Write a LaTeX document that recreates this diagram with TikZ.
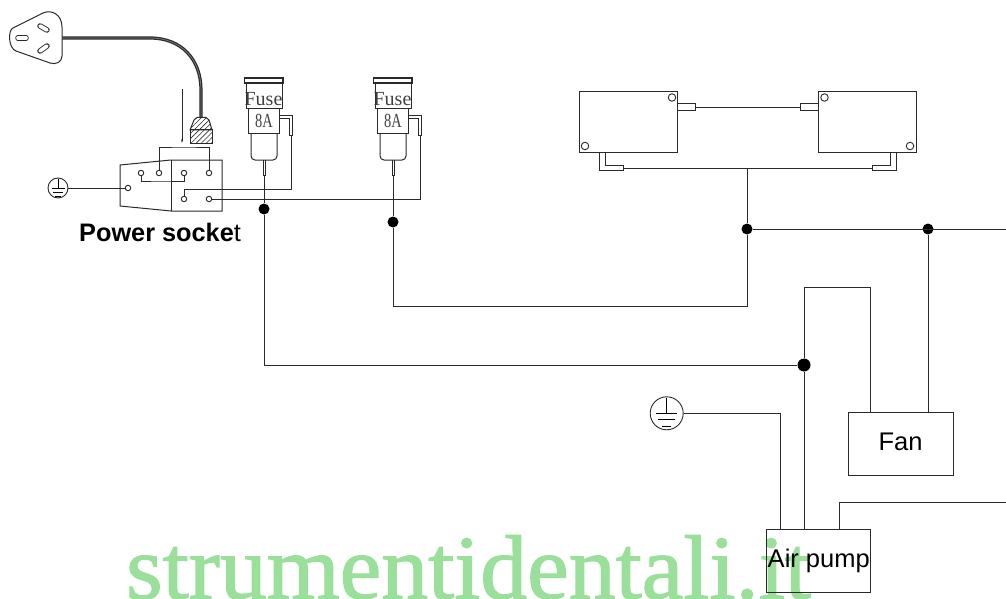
\documentclass[tikz,border=0pt]{standalone}
\usepackage{fontspec}
\setmainfont{Liberation Sans}
\newfontfamily\fuseserif{Liberation Serif}
\newfontfamily\markserif[FakeBold=1.4,FakeStretch=1.03]{Liberation Serif}
\usetikzlibrary{patterns.meta,arrows.meta}
\definecolor{markgreen}{HTML}{9ADF9A}
\definecolor{inkgray}{HTML}{2A2A2A}
\tikzset{
	wire/.style={draw=inkgray,line width=1pt,line join=miter},
	hatched/.style={wire,pattern={Lines[angle=45,distance=3.6pt,line width=.6pt]},pattern color=inkgray},
	unit/.style={draw=inkgray,line width=1pt,inner sep=0pt,font=\fontsize{25.5}{28}\selectfont},
	term/.style={draw=inkgray,circle,line width=.9pt,fill=white,inner sep=0pt,minimum size=5.5pt},
	hole/.style={draw=inkgray,circle,line width=.9pt,fill=white,inner sep=0pt,minimum size=7.5pt},
	joint/.style={circle,fill=black,inner sep=0pt,minimum size=11pt},
	fuselabel/.style={inner sep=0pt,text=black!75,font=\fuseserif\fontsize{20}{22}\selectfont},
	earth/.pic={
		\node[draw=inkgray,circle,line width=.9pt,inner sep=0pt,minimum size=20pt] (-ring) at (0,0) {};
		\draw[line width=.9pt] (0,-9) -- (0,0);
		\draw[line width=.9pt] (-6.5,0) -- (6.5,0);
		\draw[line width=.9pt] (-5,4) -- (5,4);
		\draw[line width=.9pt] (-2.8,8) -- (2.8,8);
	}
}
\begin{document}
\begin{tikzpicture}[x=1pt,y=-1pt]
	\useasboundingbox (0,0) rectangle (1006,599);
	\node[anchor=base west,inner sep=0pt,text=markgreen,font=\markserif\fontsize{91}{100}\selectfont] (watermark) at (126,598.5) {strumentidentali.it};

	\draw[wire] (13,28) -- (43,13) .. controls (52,9) and (62,15) .. (62,27) -- (62,56) .. controls (62,62) and (56,65) .. (50,63) -- (16,51) .. controls (8,48) and (8,30) .. (13,28) -- cycle;
	\foreach \ax/\ay/\bx/\by in {18/38/26/38, 40/26/47/30, 40/51/47/46} {
		\draw[line width=5.5pt,line cap=round,inkgray] (\ax,\ay) -- (\bx,\by);
		\draw[line width=3.7pt,line cap=round,white] (\ax,\ay) -- (\bx,\by);
	}
	\coordinate (cablestart) at (62,38);
	\coordinate (cableend) at (201,118);
	\draw[line width=3.2pt,inkgray] (cablestart) -- (150,38) .. controls (182,38) and (201,60) .. (201,90) -- (cableend);
	\draw[line width=.7pt,gray] (cablestart) -- (150,38) .. controls (182,38) and (201,60) .. (201,90) -- (cableend);
	\draw[hatched] (190,130) -- (194,120) -- (197,117.5) -- (206,117.5) -- (209,120) -- (212,130) -- cycle;
	\draw[hatched] (190,130) rectangle (212,143);
	\draw[line width=.6pt,inkgray,-{Stealth[length=4pt,width=2pt]}] (182,89) -- (182,143);

	\draw[wire] (120,165) -- (171,160) -- (222,160) -- (222,211) -- (171,211) -- (120,206) -- cycle;
	\draw[wire] (171,160) -- (171,211);
	\node[term] (sockA) at (141,173) {};
	\node[term] (sockB) at (159,173) {};
	\node[term] (sockC) at (184,173) {};
	\node[term] (sockD) at (209,173) {};
	\node[term] (sockE) at (128,188) {};
	\node[term] (sockF) at (184,199) {};
	\node[term] (sockG) at (209,199) {};
	\coordinate (bridgeTop) at (184,147);
	\coordinate (bridgeLow) at (160,181);
	\coordinate (leadTurn) at (184,189);
	\draw[wire] (sockB) |- (bridgeTop) -| (sockD);
	\draw[wire] (sockA) |- (bridgeLow) -| (sockC);
	\pic (earthsmall) at (58,188) {earth};
	\draw[wire] (earthsmall-ring) -- (sockE);
	\node[anchor=base west,inner sep=0pt,font=\fontsize{25.3}{28}\selectfont] (socketlabel) at (79,241) {\textbf{Power socke}t};

	\foreach \fx/\fn in {0/A,129/B} {
		\begin{scope}[xshift=\fx pt]
			\draw[wire,fill=white,line width=1.2pt] (244.5,78) rectangle (283,83);
			\draw[wire] (246,83) rectangle (282,109);
			\draw[wire] (248,109) rectangle (279,134);
			\draw[wire,rounded corners=4pt] (251,134) -- (251,160) -- (277,160) -- (277,134);
			\draw[wire] (263,160) -- (263,175) -- (265,175) -- (265,160);
			\draw[wire] (279,116) -- (292,116) -- (292,136) -- (289.5,136) -- (289.5,119) -- (279,119);
			\node[fuselabel] (fuse\fn) at (263.5,99) {Fuse};
			\node[fuselabel] (rating\fn) at (264,120.5) {\scalebox{.72}[1]{8A}};
			\coordinate (pin\fn) at (264,175);
			\coordinate (lead\fn) at (291,136);
		\end{scope}
	}

	\node[joint] (jointA) at (264,209) {};
	\node[joint] (jointB) at (393,222) {};
	\node[joint] (jointC) at (747,229) {};
	\node[joint] (jointD) at (928,229) {};
	\node[joint,minimum size=13pt] (jointE) at (804,365) {};

	\draw[wire] (sockF) -- (leadTurn) -| (leadA);
	\draw[wire] (sockG) -| (leadB);
	\draw[wire] (pinA) -- (jointA);
	\draw[wire] (pinB) -- (jointB);
	\draw[wire] (jointA) |- (jointE);

	\node[unit,minimum width=98pt,minimum height=60pt] (heaterL) at (628,122) {};
	\node[unit,minimum width=98pt,minimum height=60pt] (heaterR) at (867,122) {};
	\node[hole] (holeLa) at (672,97.5) {};
	\node[hole] (holeLb) at (585,146) {};
	\node[hole] (holeRa) at (824.5,97.5) {};
	\node[hole] (holeRb) at (910,146) {};
	\draw[wire] (677,104) rectangle (695,111);
	\draw[wire] (800,104) rectangle (818,111);
	\coordinate (tabLa) at (695,107.5);
	\coordinate (tabRa) at (800,107.5);
	\draw[wire] (tabLa) -- (tabRa);
	\draw[wire] (599,152) -- (599,170.5) -- (623,170.5) -- (623,165) -- (605,165) -- (605,152);
	\draw[wire] (896.5,152) -- (896.5,170.5) -- (872,170.5) -- (872,165) -- (890.5,165) -- (890.5,152);
	\coordinate (tabLb) at (623,168);
	\coordinate (tabRb) at (872,168);
	\coordinate (tee) at (747,168);
	\draw[wire] (tabLb) -- (tabRb);
	\draw[wire] (tee) -- (jointC);

	\coordinate (edgeA) at (1006,229);
	\coordinate (edgeB) at (1006,502);
	\coordinate (returnDown) at (747,306);
	\draw[wire] (jointC) -- (edgeA);
	\draw[wire] (jointC) -- (returnDown) -| (jointB);

	\node[unit,minimum width=105pt,minimum height=63pt] (fan) at (900.5,443.5) {\raisebox{4pt}{Fan}\hspace{3pt}};
	\node[unit,minimum width=104pt,minimum height=63pt] (airpump) at (818,560.5) {\hspace{1.5pt}\raisebox{-2.5pt}{Air pump}};
	\coordinate (fanLoop) at (870,287);
	\draw[wire] (jointD) -- (jointD |- fan.north);
	\draw[wire] (jointE) |- (fanLoop) -- (fanLoop |- fan.north);
	\draw[wire] (jointE) -- (jointE |- airpump.north);
	\pic (earthbig) [scale=1.65,transform shape] at (666.7,413.3) {earth};
	\coordinate (earthTurn) at (780.7,413.3);
	\draw[wire] (earthbig-ring) -- (earthTurn) -- (earthTurn |- airpump.north);
	\coordinate (pumpOut) at (839,529);
	\draw[wire] (pumpOut) |- (edgeB);
\end{tikzpicture}
\end{document}
